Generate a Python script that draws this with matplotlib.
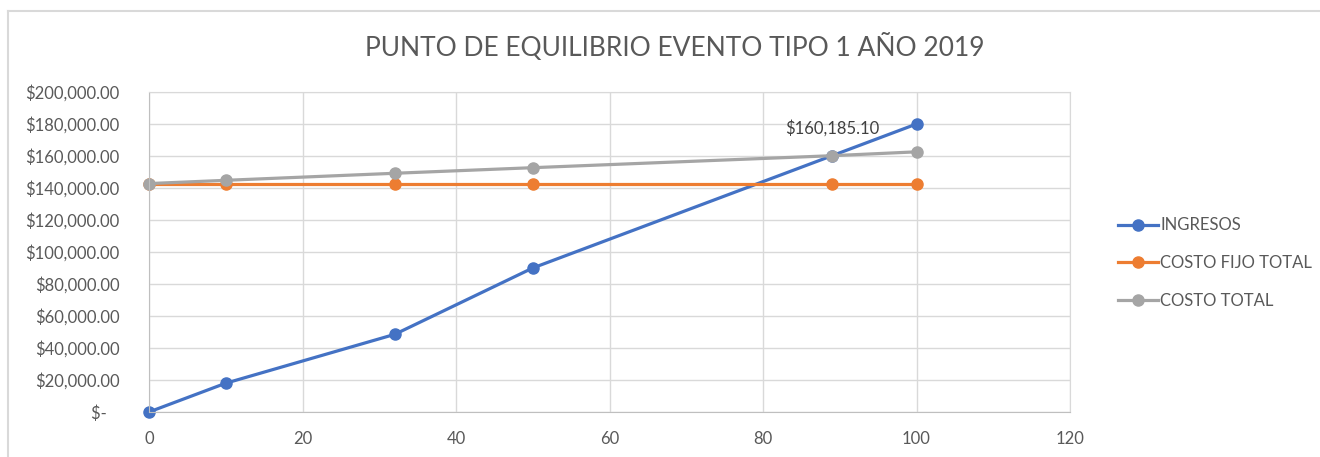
import matplotlib
matplotlib.use("Agg")
import matplotlib.pyplot as plt
from matplotlib.ticker import FuncFormatter

# datos del punto de equilibrio
unidades = [0, 10, 32, 50, 89, 100]
ingresos = [0, 18000, 48500, 90000, 160185.10, 180000]
costo_fijo = [142770, 142770, 142770, 142770, 142770, 142770]
costo_total = [142770, 144800, 149200, 152700, 160185.10, 162600]
punto_equilibrio = (89, 160185.10)

titulo = "PUNTO DE EQUILIBRIO EVENTO TIPO 1 AÑO 2019"
series = ["INGRESOS", "COSTO FIJO TOTAL", "COSTO TOTAL"]
colores = ["#4472C4", "#ED7D31", "#A5A5A5"]

plt.rcParams['font.family'] = ['Lato', 'DejaVu Sans']
texto = "#595959"

fig = plt.figure(figsize=(13.2, 4.57), dpi=100)
ax = fig.add_axes([149 / 1320, 45 / 457, 921 / 1320, 320 / 457])

for vals, nombre, c in zip([ingresos, costo_fijo, costo_total], series, colores):
    ax.plot(unidades, vals, color=c, lw=2.3, marker="o", ms=8, label=nombre,
            clip_on=False)

ax.annotate("$160,185.10", punto_equilibrio, xytext=(0, 28), textcoords="offset pixels",
            ha="center", va="center", fontsize=12, color="#404040")

ax.set_xlim(0, 120)
ax.set_ylim(0, 200000)
ax.set_xticks(range(0, 121, 20))
ax.set_yticks(range(0, 200001, 20000))


def moneda(v, pos):
    if v == 0:
        return "$-   "
    return f"${v:,.2f}"


ax.yaxis.set_major_formatter(FuncFormatter(moneda))
ax.grid(True, color="#d9d9d9", lw=1)
ax.set_axisbelow(True)
for lado in ax.spines.values():
    lado.set_color("#d9d9d9")
ax.spines["left"].set_color("#bfbfbf")
ax.spines["bottom"].set_color("#bfbfbf")
ax.tick_params(length=0, labelsize=12, colors=texto)
ax.tick_params(axis="y", pad=21)
ax.tick_params(axis="x", pad=14)

fig.text(675 / 1320, 1 - 47 / 457, titulo, ha="center", va="center",
         fontsize=19, color=texto)

fig.legend(loc="center left", bbox_to_anchor=(1118 / 1320, 1 - 263 / 457),
           frameon=False, fontsize=12, labelcolor=texto, handlelength=2.4,
           handletextpad=0.15, labelspacing=1.3, borderpad=0, borderaxespad=0)

# marco exterior del grafico
fig.add_artist(plt.Line2D([8 / 1320, 1], [1 - 11 / 457] * 2, color="#d9d9d9", lw=1.5))
fig.add_artist(plt.Line2D([8 / 1320] * 2, [0, 1 - 11 / 457], color="#d9d9d9", lw=1.5))

fig.savefig("out.png", dpi=100)
